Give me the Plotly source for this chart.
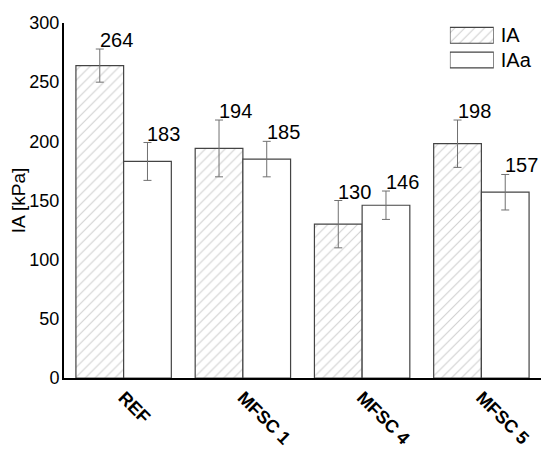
import plotly.graph_objects as go

# data
categories = ["REF", "MFSC 1", "MFSC 4", "MFSC 5"]
ia_values = [264, 194, 130, 198]
ia_errors = [14, 24, 20, 20]
iaa_values = [183, 185, 146, 157]
iaa_errors = [16, 15, 12, 15]
series_names = ["IA", "IAa"]

FONT = "Arial, Liberation Sans, sans-serif"
OUTLINE = "#444444"
HATCH = "#a0a0a0"
ERR = "#707070"
BARGAP = 0.2

fig = go.Figure()

bar_styles = [
    dict(pattern=dict(shape="/", fgcolor=HATCH, bgcolor="white", size=7, solidity=0.15)),
    dict(pattern=dict(shape="")),
]

for name, vals, errs, style in zip(
    series_names, [ia_values, iaa_values], [ia_errors, iaa_errors], bar_styles
):
    fig.add_trace(
        go.Bar(
            x=categories,
            y=vals,
            name=name,
            marker=dict(color="white", line=dict(color=OUTLINE, width=1.2), **style),
            error_y=dict(type="data", array=errs, color=ERR, thickness=1, width=4),
            showlegend=False,
        )
    )

# value labels, left aligned on the error bar top
half = (1 - BARGAP) / 4
for offset, vals, errs in [(-half, ia_values, ia_errors), (half, iaa_values, iaa_errors)]:
    for i, (v, e) in enumerate(zip(vals, errs)):
        fig.add_annotation(
            x=i + offset,
            y=v + e,
            text=str(v),
            showarrow=False,
            xanchor="left",
            yanchor="bottom",
            xshift=-2,
            yshift=-4,
            font=dict(family=FONT, size=20, color="black"),
        )

# legend drawn as tiny horizontal bars in an inset axis
for name, style in zip(series_names, bar_styles):
    fig.add_trace(
        go.Bar(
            x=[1],
            y=[name],
            orientation="h",
            width=0.64,
            marker=dict(color="white", line=dict(color=OUTLINE, width=1.2), **style),
            xaxis="x2",
            yaxis="y2",
            showlegend=False,
            hoverinfo="skip",
        )
    )

# the page body adds an 8 px margin, so the figure is a bit smaller than the window
fig.update_layout(
    width=542,
    height=445,
    margin=dict(l=56, r=9, t=15, b=75),
    plot_bgcolor="white",
    paper_bgcolor="white",
    barmode="group",
    bargap=BARGAP,
    bargroupgap=0,
    font=dict(family=FONT, color="black"),
    xaxis=dict(
        range=[-0.5, 3.5],
        automargin=False,
        showline=True,
        linecolor="black",
        linewidth=2,
        showgrid=False,
        ticks="",
        tickangle=45,
        tickfont=dict(family=FONT, size=18, weight="bold", color="black"),
    ),
    yaxis=dict(
        range=[0, 300],
        dtick=50,
        automargin=False,
        showline=True,
        linecolor="black",
        linewidth=2,
        showgrid=False,
        zeroline=False,
        ticks="",
        ticklen=0,
        ticklabelstandoff=-1,
        tickfont=dict(family=FONT, size=18, color="black"),
        title=dict(text="IA [kPa]", font=dict(family=FONT, size=19, color="black"), standoff=8),
    ),
    xaxis2=dict(
        domain=[0.809, 0.901],
        anchor="y2",
        range=[0, 1],
        visible=False,
        fixedrange=True,
    ),
    yaxis2=dict(
        domain=[0.861, 1.0],
        anchor="x2",
        side="right",
        autorange="reversed",
        automargin=False,
        showline=False,
        showgrid=False,
        ticks="",
        ticklabelstandoff=6,
        tickfont=dict(family=FONT, size=20, color="black"),
        fixedrange=True,
    ),
)

fig.write_html("out.html")
